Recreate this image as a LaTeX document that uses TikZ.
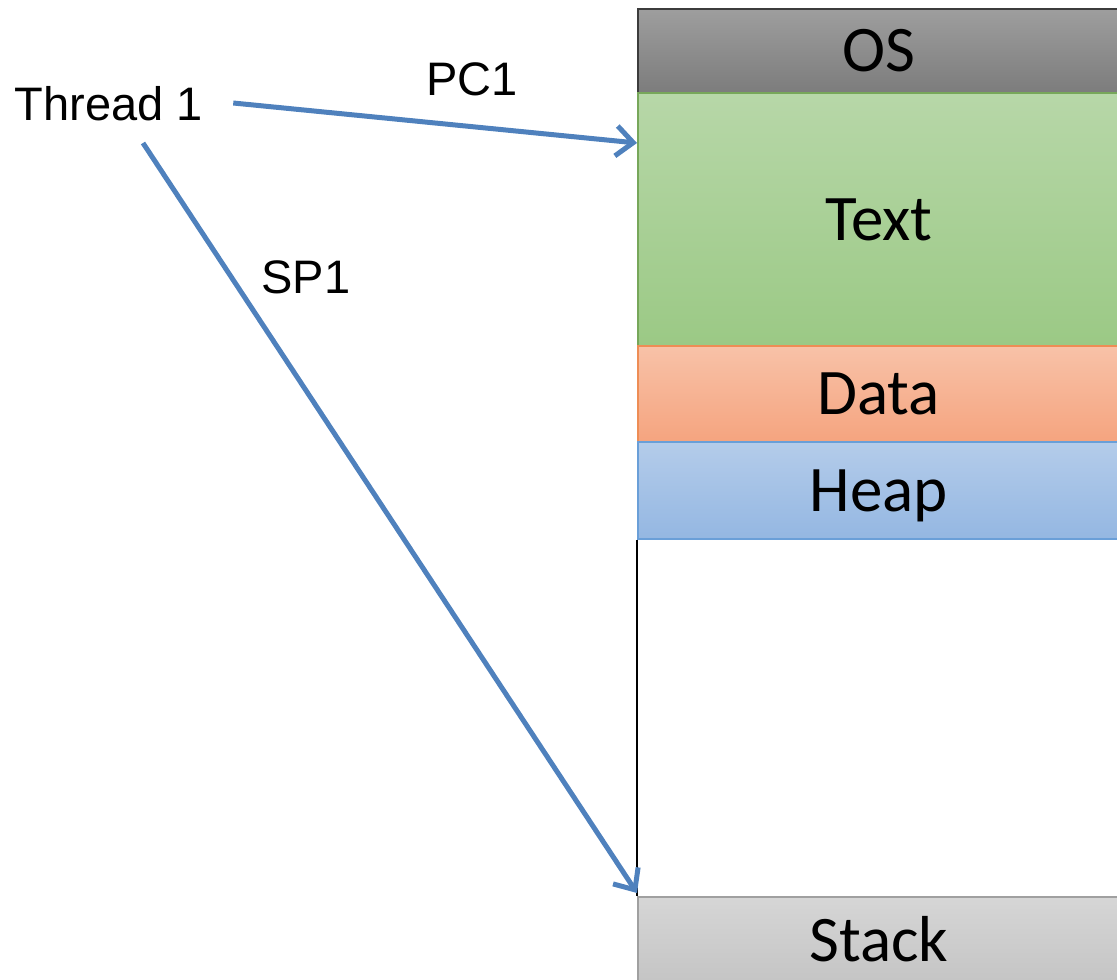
\documentclass[tikz,border=0pt]{standalone}
\usepackage{fontspec}
\setmainfont{Liberation Sans}
\newfontfamily\calib{Carlito}
\usetikzlibrary{arrows.meta,calc}
\definecolor{arrblue}{HTML}{4F81BD}
\definecolor{osT}{HTML}{9E9E9E}\definecolor{osB}{HTML}{7C7C7C}\definecolor{osD}{HTML}{3C3C3C}
\definecolor{txT}{HTML}{B7D7A8}\definecolor{txB}{HTML}{9BC985}\definecolor{txD}{HTML}{77A75A}
\definecolor{daT}{HTML}{F8C2A8}\definecolor{daB}{HTML}{F5A47F}\definecolor{daD}{HTML}{EE8D55}
\definecolor{heT}{HTML}{B4CCEA}\definecolor{heB}{HTML}{94B7E2}\definecolor{heD}{HTML}{6A9FD8}
\definecolor{stT}{HTML}{D6D6D6}\definecolor{stB}{HTML}{C4C4C4}\definecolor{stD}{HTML}{A0A0A0}
\tikzset{
  seg/.style={draw=#1D, top color=#1T, bottom color=#1B, line width=1.5pt,
    anchor=north west, minimum width=482pt, inner sep=0pt,
    font=\calib\fontsize{65}{70}\selectfont, text height=42pt, text depth=0pt},
  lbl/.style={inner sep=0pt, font=\fontsize{47}{50}\selectfont, text height=33.6pt, text depth=0pt},
  arr/.style={draw=arrblue, line width=5pt, -{Straight Barb[length=17pt,width=30pt]}}
}
\begin{document}
\begin{tikzpicture}[x=1pt,y=-1pt]
\useasboundingbox (0,0) rectangle (1117,980);
\node[seg=os, minimum height=84pt] (os) at (637,8) {OS};
\node[seg=tx, minimum height=253pt] (text) at (637,92) {Text};
\node[seg=da, minimum height=96pt] (data) at (637,345) {Data};
\node[seg=he, minimum height=97pt] (heap) at (637,441) {Heap};
\node[seg=st, minimum height=88pt] (stack) at (637,896) {Stack};
\draw[line width=2.5pt] (heap.south west) -- (stack.north west);
\node[lbl] (thread) at (109,104) {Thread 1};
\node[lbl] (pc) at (472,79) {PC1};
\node[lbl] (sp) at (306,277) {SP1};
\draw[arr] ($(thread.east)+(30,-1)$) -- ($(text.north west)+(0,51)$);
\draw[arr] ($(thread.south)+(34,22)$) -- ($(stack.north west)+(0,-3)$);
\end{tikzpicture}
\end{document}
